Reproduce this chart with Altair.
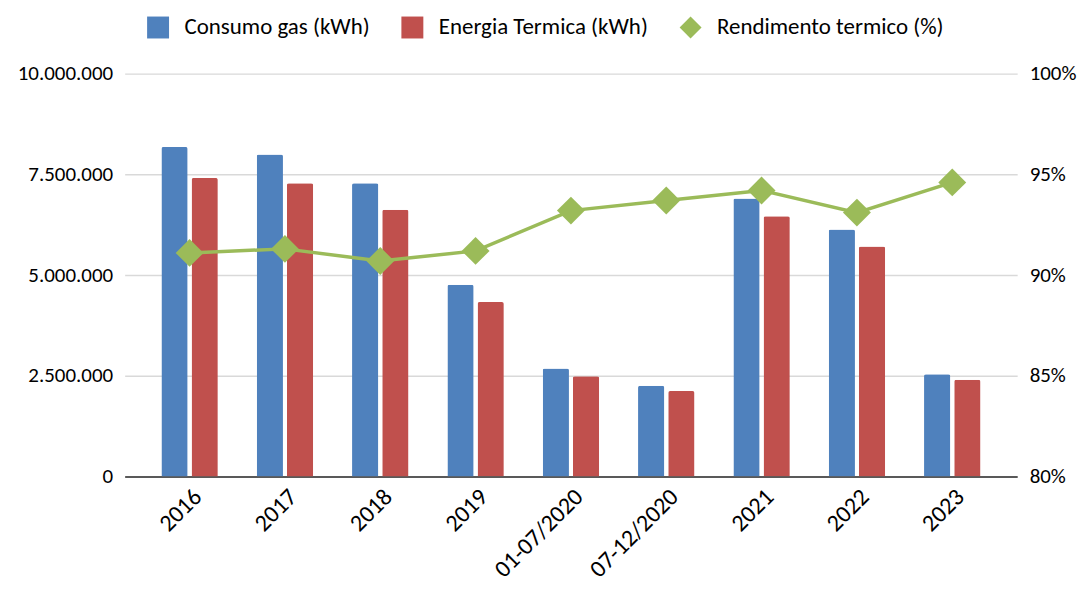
import altair as alt
import pandas as pd

categories = ["2016", "2017", "2018", "2019", "01-07/2020", "07-12/2020", "2021", "2022", "2023"]
consumo_gas = [8180000, 7990000, 7280000, 4760000, 2680000, 2250000, 6900000, 6130000, 2540000]
energia_termica = [7410000, 7280000, 6620000, 4330000, 2490000, 2120000, 6460000, 5710000, 2400000]
rendimento = [91.1, 91.3, 90.7, 91.2, 93.2, 93.7, 94.2, 93.1, 94.6]

series_names = ["Consumo gas (kWh)", "Energia Termica (kWh)", "Rendimento termico (%)"]
colors = ["#4F81BD", "#C0504D", "#9BBB59"]
left_ticks = [0, 2500000, 5000000, 7500000, 10000000]
right_ticks = [80, 85, 90, 95, 100]

FONT = "Carlito, Calibri, Lato, Liberation Sans, sans-serif"
NO_VIEW = alt.ViewBackground(stroke="transparent", strokeWidth=0, strokeOpacity=0)

bar_rows = []
for c, g, e in zip(categories, consumo_gas, energia_termica):
    bar_rows.append({"cat": c, "series": series_names[0], "value": g})
    bar_rows.append({"cat": c, "series": series_names[1], "value": e})
bar_df = pd.DataFrame(bar_rows)
line_df = pd.DataFrame({"cat": categories, "series": series_names[2], "rend": rendimento})

x_enc = alt.X(
    "cat:N",
    sort=categories,
    scale=alt.Scale(domain=categories, paddingInner=0.408, paddingOuter=0.385),
    axis=alt.Axis(
        title=None, labelAngle=-45, labelFontSize=24, labelFont=FONT, labelColor="#000000",
        ticks=False, domainColor="#595959", domainWidth=2, labelPadding=8, grid=False,
    ),
)

legend_cfg = dict(
    title=None, orient="none", direction="horizontal", legendX=22, legendY=-58,
    symbolSize=484, labelFontSize=23, labelFont=FONT, labelColor="#000000",
    labelOffset=15, columnPadding=31, labelLimit=400, padding=0, symbolStrokeWidth=0,
)

color_enc = alt.Color(
    "series:N",
    scale=alt.Scale(domain=series_names, range=colors),
    legend=alt.Legend(**legend_cfg),
)

bars = alt.Chart(bar_df).mark_bar(cornerRadiusTopLeft=2, cornerRadiusTopRight=2).encode(
    x=x_enc,
    xOffset=alt.XOffset(
        "series:N",
        sort=series_names[:2],
        scale=alt.Scale(domain=series_names[:2], paddingInner=0.13, paddingOuter=0),
    ),
    y=alt.Y(
        "value:Q",
        scale=alt.Scale(domain=[0, 10000000]),
        axis=alt.Axis(
            title=None, values=left_ticks, labelFontSize=21, labelFont=FONT, labelColor="#000000",
            labelExpr="replace(format(datum.value, ','), /,/g, '.')",
            domain=False, ticks=False, labelPadding=12,
            grid=True, gridColor="#D9D9D9", gridWidth=1.5,
        ),
    ),
    color=color_enc,
).properties(view=NO_VIEW)

right_axis = alt.Axis(
    title=None, orient="right", values=right_ticks, labelFontSize=21, labelFont=FONT,
    labelColor="#000000", labelExpr="datum.value + '%'", domain=False, ticks=False,
    labelPadding=12, grid=False,
)

line = alt.Chart(line_df).mark_line(strokeWidth=3.5, color="#9BBB59").encode(
    x=x_enc,
    y=alt.Y("rend:Q", scale=alt.Scale(domain=[80, 100]), axis=right_axis),
).properties(view=NO_VIEW)

points = alt.Chart(line_df).mark_point(filled=True, size=784, opacity=1).encode(
    x=x_enc,
    y=alt.Y("rend:Q", scale=alt.Scale(domain=[80, 100]), axis=right_axis),
    color=color_enc,
    shape=alt.Shape(
        "series:N",
        scale=alt.Scale(domain=series_names, range=["square", "square", "diamond"]),
        legend=alt.Legend(**legend_cfg),
    ),
).properties(view=NO_VIEW)

right_layer = alt.layer(line, points)

chart = alt.layer(bars, right_layer).resolve_scale(y="independent").properties(
    width=895,
    height=404,
    autosize=alt.AutoSizeParams(type="none"),
    padding={"left": 117, "top": 65, "right": 60, "bottom": 110},
    view=NO_VIEW,
).configure_view(
    stroke="transparent", strokeWidth=0, strokeOpacity=0
).configure_axisY(
    domain=False, domainOpacity=0
).configure(background="#ffffff")

chart.save("out.html", embed_options={"renderer": "svg", "actions": False})
